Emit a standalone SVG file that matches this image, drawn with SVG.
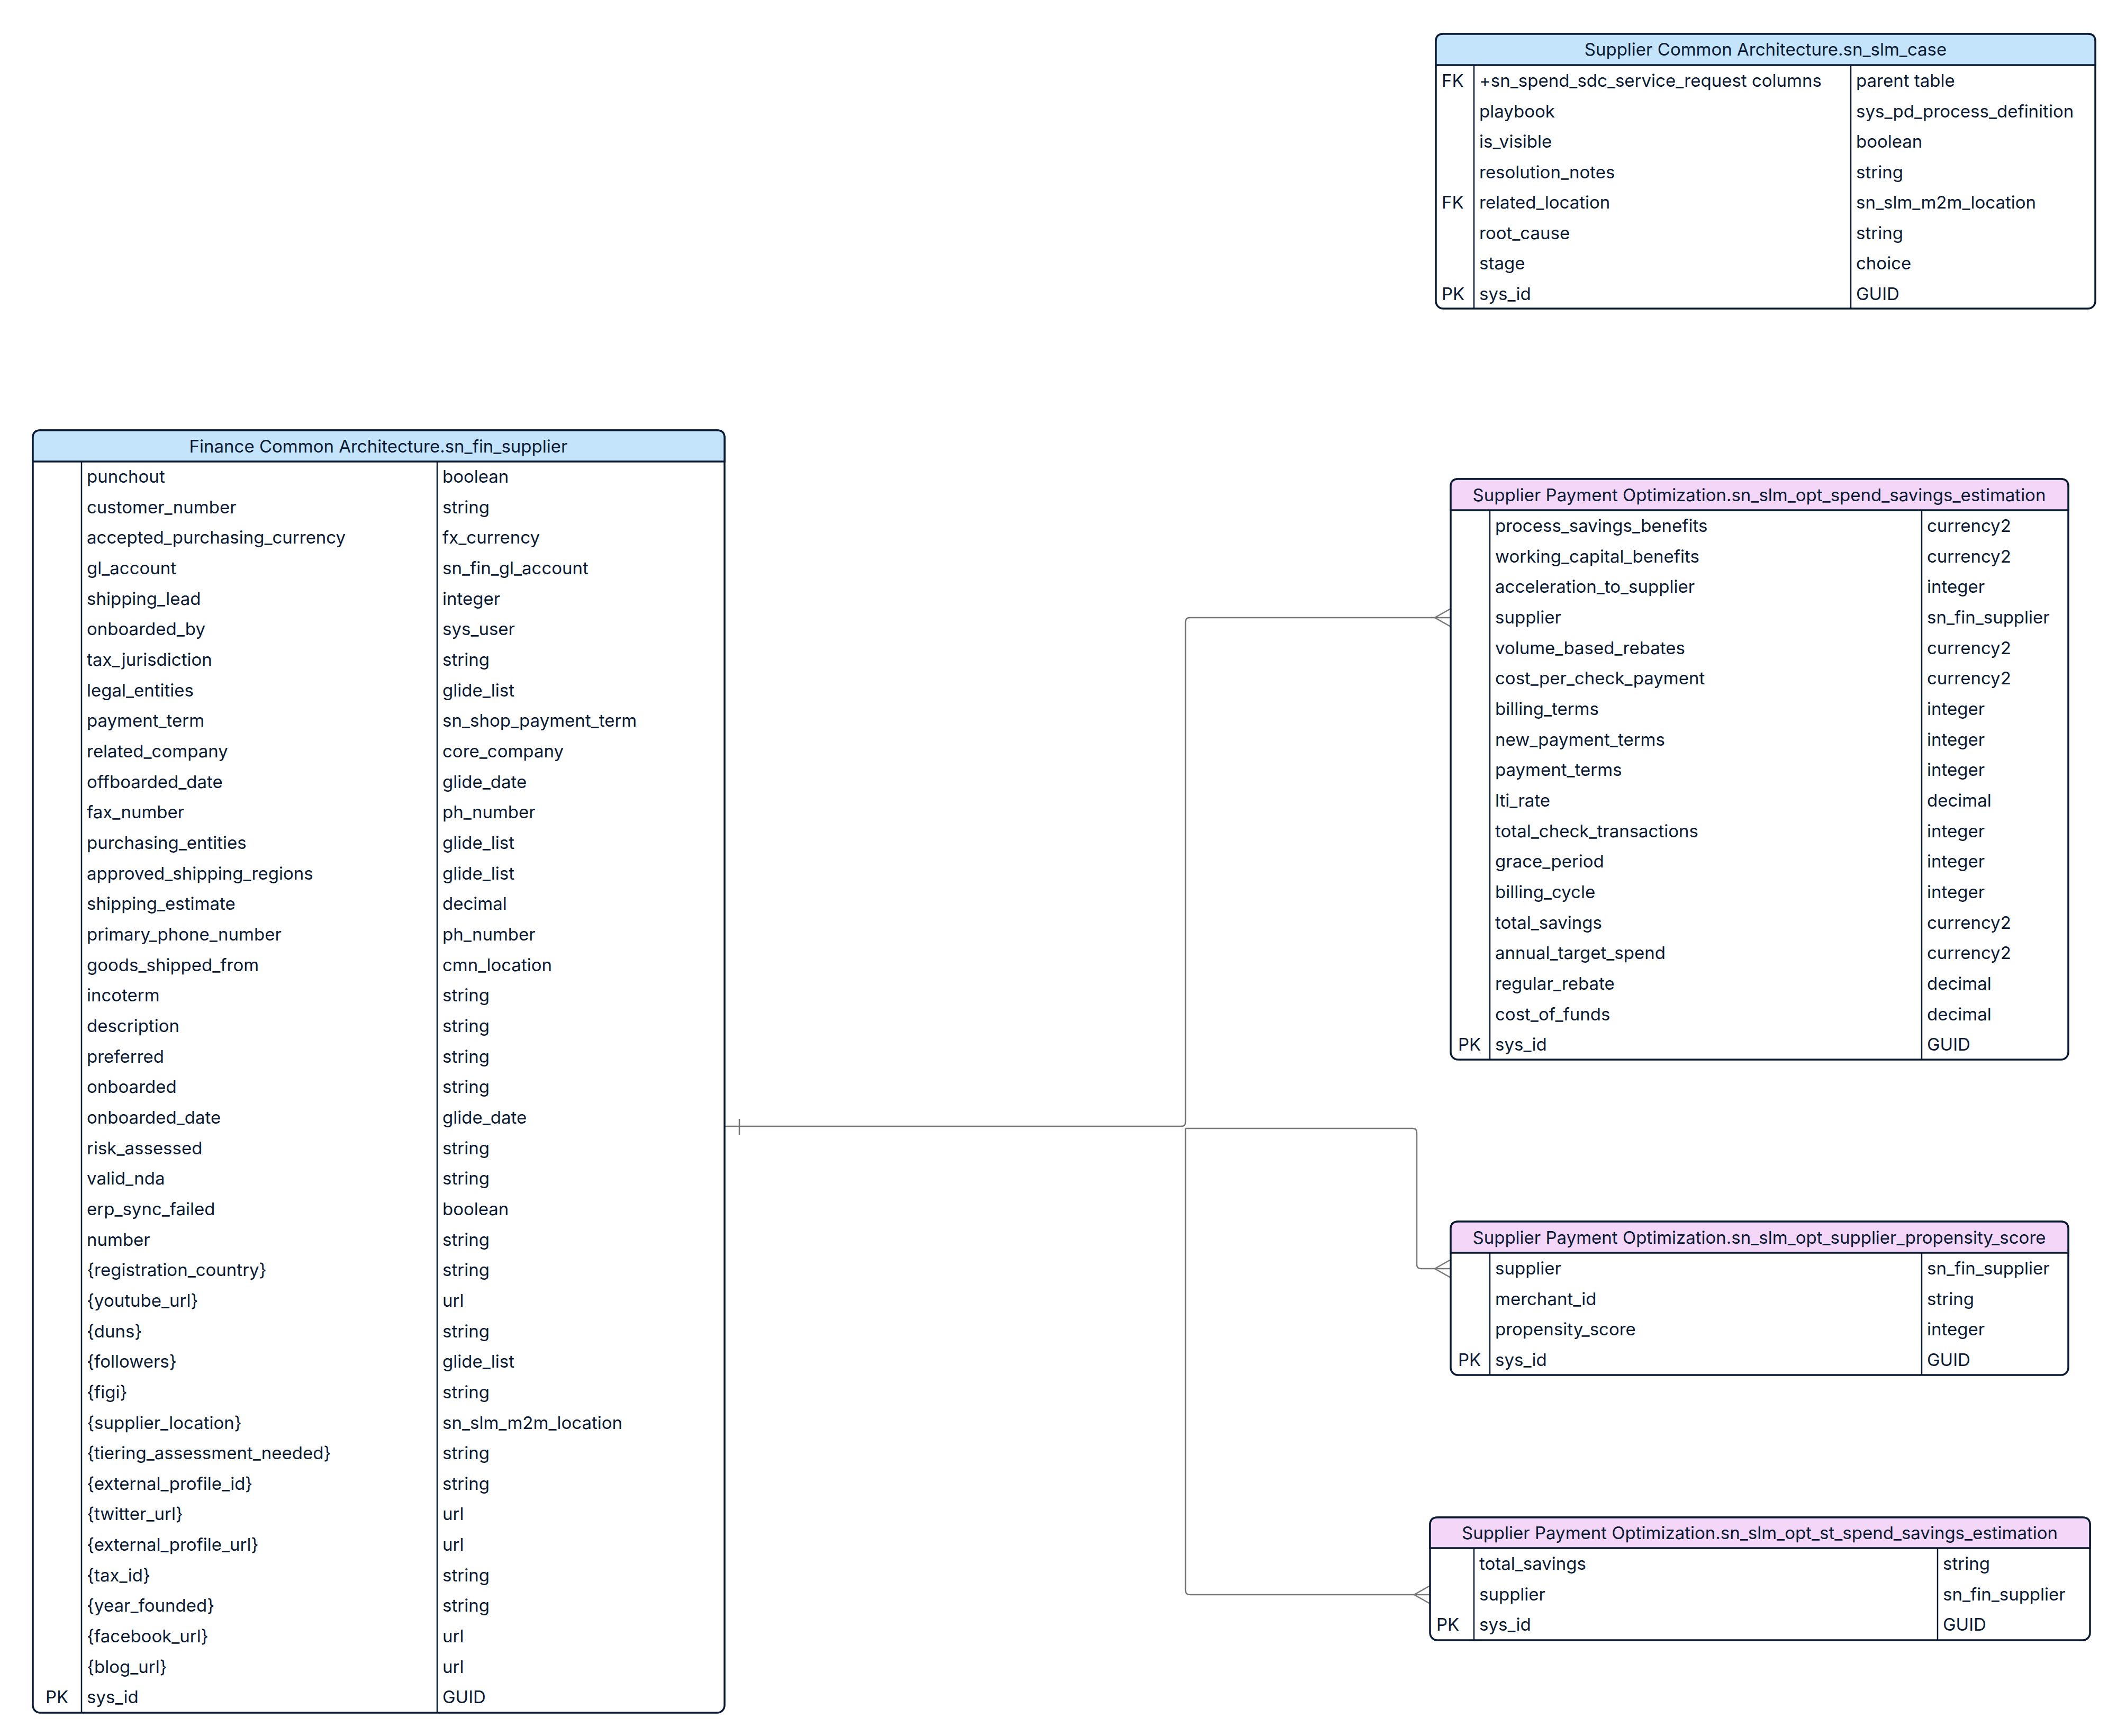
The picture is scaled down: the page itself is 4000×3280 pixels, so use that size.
<svg xmlns="http://www.w3.org/2000/svg" width="4000" height="3280" viewBox="0 0 4000 3280">
<style>
text{font-family:Inter,"Noto Sans","Liberation Sans",sans-serif;font-size:33px;fill:#0b1a33}
.h{text-anchor:middle}
.box{fill:#fff;stroke:#0b1a33;stroke-width:3.5}
.hb{fill:#c4e4fc;stroke:#0b1a33;stroke-width:3.5}
.hp{fill:#f3d6f8;stroke:#0b1a33;stroke-width:3.5}
.d{stroke:#0b1a33;stroke-width:2.5}
.c{fill:none;stroke:#777;stroke-width:2.5}
</style>
<g id="connectors">
<path class="c" d="M1369,2128 H2232 Q2240,2128 2240,2120 V1175 Q2240,1167 2248,1167 H2741"/>
<path class="c" d="M2240,2132 H2669 Q2677,2132 2677,2140 V2389 Q2677,2397 2685,2397 H2741"/>
<path class="c" d="M2240,2132 V3005 Q2240,3013 2248,3013 H2702"/>
<path class="c" d="M1397,2114 V2144"/>
<path class="c" d="M2741,1150 L2711,1167 L2741,1184"/>
<path class="c" d="M2741,2380 L2711,2397 L2741,2414"/>
<path class="c" d="M2702,2996 L2672,3013 L2702,3030"/>
</g>
<g id="sn_slm_case">
<rect class="box" x="2713" y="64" width="1246" height="519" rx="14"/>
<path class="hb" d="M2713,123 V78 Q2713,64 2727,64 H3945 Q3959,64 3959,78 V123 Z"/>
<line class="d" x1="2785" y1="123" x2="2785" y2="583"/>
<line class="d" x1="3497" y1="123" x2="3497" y2="583"/>
<text class="h" x="3336" y="105">Supplier Common Architecture.sn_slm_case</text>
<text x="2724" y="164">FK</text><text x="2795" y="164">+sn_spend_sdc_service_request columns</text><text x="3507" y="164">parent table</text>
<text x="2795" y="222">playbook</text><text x="3507" y="222">sys_pd_process_definition</text>
<text x="2795" y="279">is_visible</text><text x="3507" y="279">boolean</text>
<text x="2795" y="337">resolution_notes</text><text x="3507" y="337">string</text>
<text x="2724" y="394">FK</text><text x="2795" y="394">related_location</text><text x="3507" y="394">sn_slm_m2m_location</text>
<text x="2795" y="452">root_cause</text><text x="3507" y="452">string</text>
<text x="2795" y="509">stage</text><text x="3507" y="509">choice</text>
<text x="2724" y="567">PK</text><text x="2795" y="567">sys_id</text><text x="3507" y="567">GUID</text>
</g>
<g id="sn_fin_supplier">
<rect class="box" x="62" y="813" width="1307" height="2423" rx="14"/>
<path class="hb" d="M62,872 V827 Q62,813 76,813 H1355 Q1369,813 1369,827 V872 Z"/>
<line class="d" x1="154" y1="872" x2="154" y2="3236"/>
<line class="d" x1="826" y1="872" x2="826" y2="3236"/>
<text class="h" x="715" y="855">Finance Common Architecture.sn_fin_supplier</text>
<text x="164" y="912">punchout</text><text x="836" y="912">boolean</text>
<text x="164" y="970">customer_number</text><text x="836" y="970">string</text>
<text x="164" y="1027">accepted_purchasing_currency</text><text x="836" y="1027">fx_currency</text>
<text x="164" y="1085">gl_account</text><text x="836" y="1085">sn_fin_gl_account</text>
<text x="164" y="1143">shipping_lead</text><text x="836" y="1143">integer</text>
<text x="164" y="1200">onboarded_by</text><text x="836" y="1200">sys_user</text>
<text x="164" y="1258">tax_jurisdiction</text><text x="836" y="1258">string</text>
<text x="164" y="1316">legal_entities</text><text x="836" y="1316">glide_list</text>
<text x="164" y="1373">payment_term</text><text x="836" y="1373">sn_shop_payment_term</text>
<text x="164" y="1431">related_company</text><text x="836" y="1431">core_company</text>
<text x="164" y="1489">offboarded_date</text><text x="836" y="1489">glide_date</text>
<text x="164" y="1546">fax_number</text><text x="836" y="1546">ph_number</text>
<text x="164" y="1604">purchasing_entities</text><text x="836" y="1604">glide_list</text>
<text x="164" y="1662">approved_shipping_regions</text><text x="836" y="1662">glide_list</text>
<text x="164" y="1719">shipping_estimate</text><text x="836" y="1719">decimal</text>
<text x="164" y="1777">primary_phone_number</text><text x="836" y="1777">ph_number</text>
<text x="164" y="1835">goods_shipped_from</text><text x="836" y="1835">cmn_location</text>
<text x="164" y="1892">incoterm</text><text x="836" y="1892">string</text>
<text x="164" y="1950">description</text><text x="836" y="1950">string</text>
<text x="164" y="2008">preferred</text><text x="836" y="2008">string</text>
<text x="164" y="2065">onboarded</text><text x="836" y="2065">string</text>
<text x="164" y="2123">onboarded_date</text><text x="836" y="2123">glide_date</text>
<text x="164" y="2181">risk_assessed</text><text x="836" y="2181">string</text>
<text x="164" y="2238">valid_nda</text><text x="836" y="2238">string</text>
<text x="164" y="2296">erp_sync_failed</text><text x="836" y="2296">boolean</text>
<text x="164" y="2354">number</text><text x="836" y="2354">string</text>
<text x="164" y="2411">{registration_country}</text><text x="836" y="2411">string</text>
<text x="164" y="2469">{youtube_url}</text><text x="836" y="2469">url</text>
<text x="164" y="2527">{duns}</text><text x="836" y="2527">string</text>
<text x="164" y="2584">{followers}</text><text x="836" y="2584">glide_list</text>
<text x="164" y="2642">{figi}</text><text x="836" y="2642">string</text>
<text x="164" y="2700">{supplier_location}</text><text x="836" y="2700">sn_slm_m2m_location</text>
<text x="164" y="2757">{tiering_assessment_needed}</text><text x="836" y="2757">string</text>
<text x="164" y="2815">{external_profile_id}</text><text x="836" y="2815">string</text>
<text x="164" y="2872">{twitter_url}</text><text x="836" y="2872">url</text>
<text x="164" y="2930">{external_profile_url}</text><text x="836" y="2930">url</text>
<text x="164" y="2988">{tax_id}</text><text x="836" y="2988">string</text>
<text x="164" y="3045">{year_founded}</text><text x="836" y="3045">string</text>
<text x="164" y="3103">{facebook_url}</text><text x="836" y="3103">url</text>
<text x="164" y="3161">{blog_url}</text><text x="836" y="3161">url</text>
<text x="86" y="3218">PK</text><text x="164" y="3218">sys_id</text><text x="836" y="3218">GUID</text>
</g>
<g id="sn_slm_opt_spend_savings_estimation">
<rect class="box" x="2741" y="905" width="1167" height="1097" rx="14"/>
<path class="hp" d="M2741,964 V919 Q2741,905 2755,905 H3894 Q3908,905 3908,919 V964 Z"/>
<line class="d" x1="2815" y1="964" x2="2815" y2="2002"/>
<line class="d" x1="3631" y1="964" x2="3631" y2="2002"/>
<text class="h" x="3324" y="947">Supplier Payment Optimization.sn_slm_opt_spend_savings_estimation</text>
<text x="2825" y="1005">process_savings_benefits</text><text x="3641" y="1005">currency2</text>
<text x="2825" y="1063">working_capital_benefits</text><text x="3641" y="1063">currency2</text>
<text x="2825" y="1120">acceleration_to_supplier</text><text x="3641" y="1120">integer</text>
<text x="2825" y="1178">supplier</text><text x="3641" y="1178">sn_fin_supplier</text>
<text x="2825" y="1236">volume_based_rebates</text><text x="3641" y="1236">currency2</text>
<text x="2825" y="1293">cost_per_check_payment</text><text x="3641" y="1293">currency2</text>
<text x="2825" y="1351">billing_terms</text><text x="3641" y="1351">integer</text>
<text x="2825" y="1409">new_payment_terms</text><text x="3641" y="1409">integer</text>
<text x="2825" y="1466">payment_terms</text><text x="3641" y="1466">integer</text>
<text x="2825" y="1524">lti_rate</text><text x="3641" y="1524">decimal</text>
<text x="2825" y="1582">total_check_transactions</text><text x="3641" y="1582">integer</text>
<text x="2825" y="1639">grace_period</text><text x="3641" y="1639">integer</text>
<text x="2825" y="1697">billing_cycle</text><text x="3641" y="1697">integer</text>
<text x="2825" y="1755">total_savings</text><text x="3641" y="1755">currency2</text>
<text x="2825" y="1812">annual_target_spend</text><text x="3641" y="1812">currency2</text>
<text x="2825" y="1870">regular_rebate</text><text x="3641" y="1870">decimal</text>
<text x="2825" y="1928">cost_of_funds</text><text x="3641" y="1928">decimal</text>
<text x="2755" y="1985">PK</text><text x="2825" y="1985">sys_id</text><text x="3641" y="1985">GUID</text>
</g>
<g id="sn_slm_opt_supplier_propensity_score">
<rect class="box" x="2741" y="2308" width="1167" height="290" rx="14"/>
<path class="hp" d="M2741,2367 V2322 Q2741,2308 2755,2308 H3894 Q3908,2308 3908,2322 V2367 Z"/>
<line class="d" x1="2815" y1="2367" x2="2815" y2="2598"/>
<line class="d" x1="3631" y1="2367" x2="3631" y2="2598"/>
<text class="h" x="3324" y="2350">Supplier Payment Optimization.sn_slm_opt_supplier_propensity_score</text>
<text x="2825" y="2408">supplier</text><text x="3641" y="2408">sn_fin_supplier</text>
<text x="2825" y="2466">merchant_id</text><text x="3641" y="2466">string</text>
<text x="2825" y="2523">propensity_score</text><text x="3641" y="2523">integer</text>
<text x="2755" y="2581">PK</text><text x="2825" y="2581">sys_id</text><text x="3641" y="2581">GUID</text>
</g>
<g id="sn_slm_opt_st_spend_savings_estimation">
<rect class="box" x="2702" y="2867" width="1247" height="232" rx="14"/>
<path class="hp" d="M2702,2925 V2881 Q2702,2867 2716,2867 H3935 Q3949,2867 3949,2881 V2925 Z"/>
<line class="d" x1="2785" y1="2925" x2="2785" y2="3099"/>
<line class="d" x1="3661" y1="2925" x2="3661" y2="3099"/>
<text class="h" x="3325" y="2908">Supplier Payment Optimization.sn_slm_opt_st_spend_savings_estimation</text>
<text x="2795" y="2966">total_savings</text><text x="3671" y="2966">string</text>
<text x="2795" y="3024">supplier</text><text x="3671" y="3024">sn_fin_supplier</text>
<text x="2714" y="3081">PK</text><text x="2795" y="3081">sys_id</text><text x="3671" y="3081">GUID</text>
</g>
</svg>
